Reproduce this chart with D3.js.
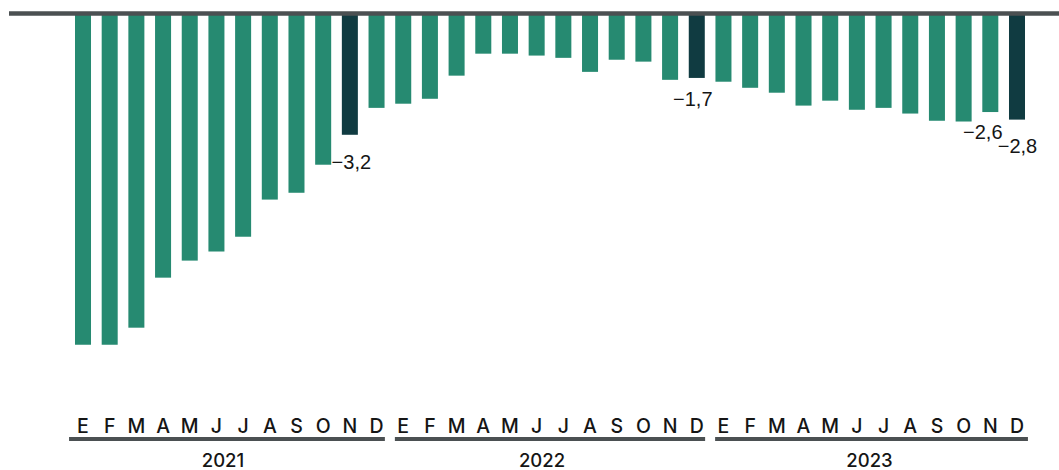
<!DOCTYPE html>
<html>
<head>
<meta charset="utf-8">
<script src="https://cdn.jsdelivr.net/npm/d3@7/dist/d3.min.js"></script>
<style>
  html, body { margin: 0; padding: 0; background: #ffffff; }
  svg { display: block; }
</style>
</head>
<body>
<svg id="chart" width="1059" height="470"></svg>
<script>
// Monthly balance, 2021–2023
const years = ["2021", "2022", "2023"];
const monthLetters = ["E", "F", "M", "A", "M", "J", "J", "A", "S", "O", "N", "D"];
const values2021 = [-8.74, -8.74, -8.29, -6.97, -6.52, -6.28, -5.89, -4.91, -4.73, -3.99, -3.2, -2.49];
const values2022 = [-2.38, -2.25, -1.64, -1.06, -1.06, -1.11, -1.17, -1.54, -1.22, -1.27, -1.75, -1.7];
const values2023 = [-1.80, -1.96, -2.09, -2.43, -2.30, -2.54, -2.49, -2.64, -2.83, -2.85, -2.6, -2.8];
// months (index into the full series) that carry a value label
const labelledMonths = [10, 23, 34, 35];
// months drawn in the dark highlight colour (year-end)
const highlightedMonths = [10, 23, 35];

const series = [values2021, values2022, values2023];
const data = [];
series.forEach((vals, yi) => vals.forEach((v, mi) => {
  data.push({ i: yi * 12 + mi, year: years[yi], month: monthLetters[mi], value: v });
}));

const svg = d3.select("#chart");
const green = "#268a71", dark = "#103b41", rule = "#4b5052", ink = "#151515";

const x = d3.scaleBand()
  .domain(data.map(d => d.i))
  .range([69.66, 1030.34])
  .paddingInner(0.4)
  .paddingOuter(0.2);

const y = d3.scaleLinear().domain([0, -9]).range([13.5, 13.5 + 9 * 37.9]);

// bars hanging from the zero line
svg.append("g").selectAll("rect")
  .data(data)
  .join("rect")
  .attr("x", d => x(d.i))
  .attr("width", x.bandwidth())
  .attr("y", y(0))
  .attr("height", d => y(d.value) - y(0))
  .attr("fill", d => highlightedMonths.includes(d.i) ? dark : green);

// zero line
svg.append("line")
  .attr("x1", 9).attr("x2", 1059)
  .attr("y1", y(0)).attr("y2", y(0))
  .attr("stroke", rule).attr("stroke-width", 4.7);

// value labels
const fmt = d3.formatLocale({ decimal: ",", thousands: ".", grouping: [3], currency: ["", ""], minus: "\u2212" }).format(".1f");
const labelNudge = { 10: [1.5, 34.5], 23: [-4, 28.5], 34: [-7.5, 26.5], 35: [0.5, 33.5] };
svg.append("g").selectAll("text")
  .data(data.filter(d => labelledMonths.includes(d.i)))
  .join("text")
  .attr("x", d => x(d.i) + x.bandwidth() / 2 + labelNudge[d.i][0])
  .attr("y", d => y(d.value) + labelNudge[d.i][1])
  .attr("text-anchor", "middle")
  .attr("font-family", "'Liberation Sans', Arial, sans-serif")
  .attr("font-size", 20)
  .attr("fill", ink)
  .text(d => fmt(d.value));

// month initials
svg.append("g").selectAll("text")
  .data(data)
  .join("text")
  .attr("x", d => x(d.i) + x.bandwidth() / 2)
  .attr("y", 433)
  .attr("text-anchor", "middle")
  .attr("font-family", "Inter, 'Noto Sans', sans-serif")
  .attr("font-weight", 500)
  .attr("font-size", 19.5)
  .attr("fill", ink)
  .text(d => d.month);

// year brackets and year labels
const step = x.step();
const pad = (step - x.bandwidth()) / 2;
const yearNudge = [-4, -8, -2];
years.forEach((yr, yi) => {
  const first = yi * 12, last = yi * 12 + 11;
  const x0 = yi === 0 ? x(first) - pad - 0.6 : x(first) - pad + 5;
  const x1 = yi === years.length - 1 ? x(last) + x.bandwidth() + pad - 2.4 : x(last) + x.bandwidth() + pad - 5;
  svg.append("line")
    .attr("x1", x0).attr("x2", x1)
    .attr("y1", 439).attr("y2", 439)
    .attr("stroke", rule).attr("stroke-width", 4.2);
  svg.append("text")
    .attr("x", (x0 + x1) / 2 + yearNudge[yi])
    .attr("y", 467)
    .attr("text-anchor", "middle")
    .attr("font-family", "Inter, 'Noto Sans', sans-serif")
    .attr("font-weight", 500)
    .attr("font-size", 18.5)
    .attr("fill", ink)
    .text(yr);
});
</script>
</body>
</html>
